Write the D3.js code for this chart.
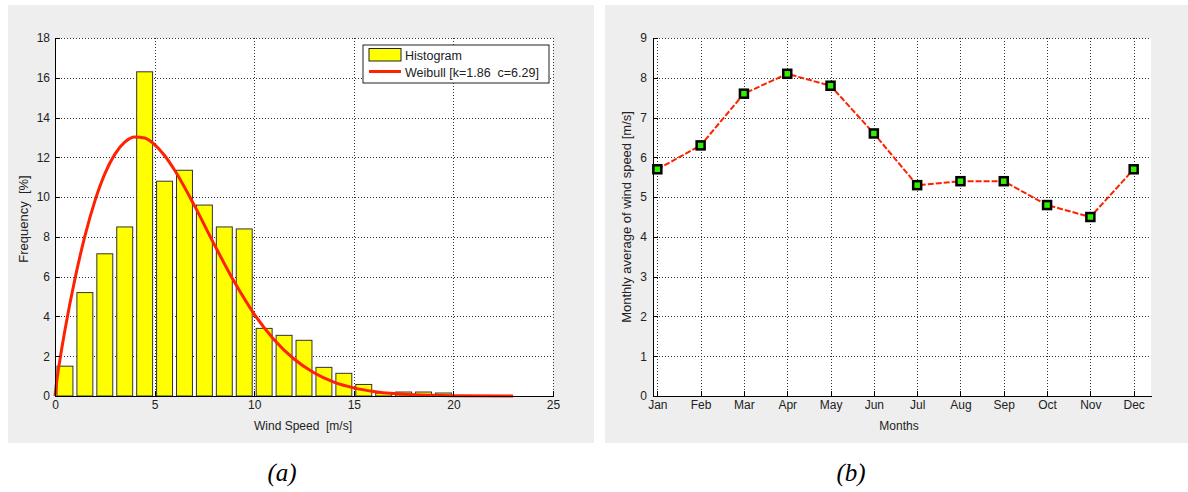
<html lang="en">
  <head>
    <title>wind</title>
    <script src="https://d3js.org/d3.v7.min.js"></script>
    <style>
      body { margin: 0; background: #fff; }
      svg text { font-family: "Liberation Sans", Arial, sans-serif; font-size: 12px; fill: #222; }
      .axis text { font-size: 12px; }
      .ylab { font-size: 13px !important; }
      .grid line { stroke: #333; stroke-dasharray: 1, 2; shape-rendering: crispEdges; }
      .grid path { display: none; }
      .axis path, .axis line { stroke: #000; shape-rendering: crispEdges; }
      .caption { font-family: "Liberation Serif", "Times New Roman", serif !important; font-style: italic; font-size: 25px !important; fill: #000 !important; }
    </style>
  </head>
  <body>
    <svg id="chart" width="1188" height="492"></svg>
    <script>
      // (a) histogram of wind speed, 1 m/s bins
      const binStart = [0, 1, 2, 3, 4, 5, 6, 7, 8, 9, 10, 11, 12, 13, 14, 15, 16, 17, 18, 19]
      const freqPct = [1.5, 5.2, 7.15, 8.5, 16.3, 10.8, 11.35, 9.6, 8.5, 8.4, 3.4, 3.05, 2.8, 1.44, 1.14, 0.58, 0.15, 0.2, 0.2, 0.15]

      // fitted Weibull curve
      const weibullX = [0, 0.1, 0.25, 0.5, 1, 1.5, 2, 2.5, 3, 3.5, 4, 4.5, 5, 5.5, 6, 7, 8, 9, 10, 11, 12, 13, 14, 15, 16, 17, 18, 20, 23]
      const weibullY = [0, 0.84, 1.84, 3.32, 5.88, 8.04, 9.8, 11.17, 12.15, 12.76, 13.02, 12.97, 12.64, 12.09, 11.36, 9.57, 7.61, 5.74, 4.12, 2.83, 1.86, 1.17, 0.7, 0.41, 0.23, 0.12, 0.06, 0.013, 0.001]

      const xTicksA = [0, 5, 10, 15, 20, 25]
      const yTicksA = [0, 2, 4, 6, 8, 10, 12, 14, 16, 18]

      // (b) monthly averages
      const months = ['Jan', 'Feb', 'Mar', 'Apr', 'May', 'Jun', 'Jul', 'Aug', 'Sep', 'Oct', 'Nov', 'Dec']
      const monthlyAvg = [5.7, 6.3, 7.6, 8.1, 7.8, 6.6, 5.3, 5.4, 5.4, 4.8, 4.5, 5.7]
      const yTicksB = [0, 1, 2, 3, 4, 5, 6, 7, 8, 9]

      const svg = d3.select('#chart')
      const red = '#ff2200'

      // panel backgrounds
      svg.append('rect').attr('x', 8).attr('y', 5).attr('width', 586).attr('height', 438).attr('fill', '#eeeeee')
      svg.append('rect').attr('x', 605).attr('y', 5).attr('width', 583).attr('height', 438).attr('fill', '#eeeeee')

      // ---------- panel (a) ----------
      const xa = d3.scaleLinear().domain([0, 25]).range([55, 553])
      const ya = d3.scaleLinear().domain([0, 18]).range([396, 38])
      const ga = svg.append('g')

      ga.append('rect').attr('x', 55).attr('y', 38).attr('width', 498).attr('height', 358).attr('fill', '#fff')

      ga.append('g').attr('class', 'grid').attr('transform', 'translate(0,396)')
        .call(d3.axisBottom(xa).tickValues(xTicksA.slice(1)).tickSize(-358).tickFormat(''))
      ga.append('g').attr('class', 'grid').attr('transform', 'translate(55,0)')
        .call(d3.axisLeft(ya).tickValues(yTicksA.slice(1)).tickSize(-498).tickFormat(''))

      ga.append('g').selectAll('rect')
        .data(binStart)
        .join('rect')
        .attr('x', (d) => xa(d + 0.1))
        .attr('width', xa(0.8) - xa(0))
        .attr('y', (d, i) => ya(freqPct[i]))
        .attr('height', (d, i) => ya(0) - ya(freqPct[i]))
        .attr('fill', '#ffff00')
        .attr('stroke', '#333')
        .attr('stroke-width', 1)

      const weibull = d3.line()
        .x((d) => xa(d))
        .y((d, i) => ya(weibullY[i]))
        .curve(d3.curveMonotoneX)
      ga.append('path').datum(weibullX)
        .attr('d', weibull)
        .attr('fill', 'none')
        .attr('stroke', red)
        .attr('stroke-width', 3)

      ga.append('g').attr('class', 'axis').attr('transform', 'translate(0,396)')
        .call(d3.axisBottom(xa).tickValues(xTicksA).tickSizeInner(-5).tickSizeOuter(0).tickPadding(4))
      ga.append('g').attr('class', 'axis').attr('transform', 'translate(55,0)')
        .call(d3.axisLeft(ya).tickValues(yTicksA).tickSizeInner(-5).tickSizeOuter(0).tickPadding(5))

      ga.append('text').attr('x', 303).attr('y', 430).attr('text-anchor', 'middle')
        .style('white-space', 'pre').text('Wind Speed  [m/s]')
      ga.append('text').attr('class', 'ylab').attr('transform', 'translate(28,219) rotate(-90)').attr('text-anchor', 'middle')
        .style('white-space', 'pre').text('Frequency  [%]')

      // legend
      const lg = ga.append('g')
      lg.append('rect').attr('x', 363).attr('y', 45).attr('width', 186).attr('height', 38)
        .attr('fill', '#fff').attr('stroke', '#222')
      lg.append('rect').attr('x', 369).attr('y', 48.5).attr('width', 32).attr('height', 12.5)
        .attr('fill', '#ffff00').attr('stroke', '#222')
      lg.append('line').attr('x1', 369).attr('x2', 401).attr('y1', 71.5).attr('y2', 71.5)
        .attr('stroke', red).attr('stroke-width', 3)
      lg.append('text').attr('x', 405).attr('y', 60).style('font-size', '12.5px').text('Histogram')
      lg.append('text').attr('x', 405).attr('y', 77).style('font-size', '12.5px').style('white-space', 'pre').text('Weibull [k=1.86  c=6.29]')

      svg.append('text').attr('class', 'caption').attr('x', 282).attr('y', 481).attr('text-anchor', 'middle').text('(a)')

      // ---------- panel (b) ----------
      const xb = d3.scaleLinear().domain([0.9, 12.4]).range([653, 1151])
      const yb = d3.scaleLinear().domain([0, 9]).range([396, 38])
      const gb = svg.append('g')
      const monthIdx = months.map((m, i) => i + 1)

      gb.append('rect').attr('x', 653).attr('y', 38).attr('width', 498).attr('height', 358).attr('fill', '#fff')

      gb.append('g').attr('class', 'grid').attr('transform', 'translate(0,396)')
        .call(d3.axisBottom(xb).tickValues(monthIdx).tickSize(-358).tickFormat(''))
      gb.append('g').attr('class', 'grid').attr('transform', 'translate(653,0)')
        .call(d3.axisLeft(yb).tickValues(yTicksB.slice(1)).tickSize(-498).tickFormat(''))

      const monthLine = d3.line()
        .x((d) => xb(d))
        .y((d, i) => yb(monthlyAvg[i]))
      gb.append('path').datum(monthIdx)
        .attr('d', monthLine)
        .attr('fill', 'none')
        .attr('stroke', red)
        .attr('stroke-width', 2)
        .attr('stroke-dasharray', '6,2')

      gb.append('g').selectAll('rect')
        .data(monthIdx)
        .join('rect')
        .attr('x', (d) => xb(d) - 4)
        .attr('y', (d, i) => yb(monthlyAvg[i]) - 4)
        .attr('width', 8)
        .attr('height', 8)
        .attr('fill', '#33ee00')
        .attr('stroke', '#000')
        .attr('stroke-width', 2.5)

      gb.append('g').attr('class', 'axis').attr('transform', 'translate(0,396)')
        .call(d3.axisBottom(xb).tickValues(monthIdx).tickFormat((d) => months[d - 1])
          .tickSizeInner(-5).tickSizeOuter(0).tickPadding(4))
      gb.append('g').attr('class', 'axis').attr('transform', 'translate(653,0)')
        .call(d3.axisLeft(yb).tickValues(yTicksB).tickSizeInner(-5).tickSizeOuter(0).tickPadding(6))

      gb.append('text').attr('x', 899).attr('y', 430).attr('text-anchor', 'middle').text('Months')
      gb.append('text').attr('class', 'ylab').attr('transform', 'translate(631,217) rotate(-90)').attr('text-anchor', 'middle')
        .text('Monthly average of wind speed [m/s]')

      svg.append('text').attr('class', 'caption').attr('x', 851).attr('y', 481).attr('text-anchor', 'middle').text('(b)')
    </script>
  </body>
</html>
